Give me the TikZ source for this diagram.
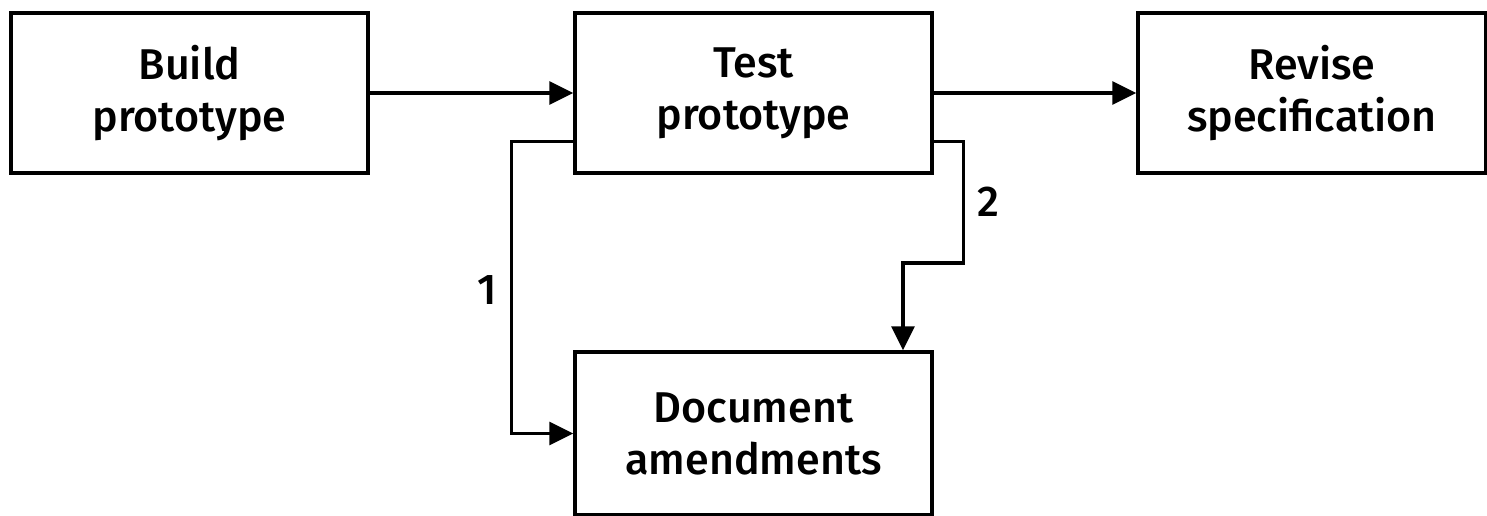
\documentclass[tikz,border=0pt]{standalone}
\usepackage{fontspec}
\setmainfont{Fira Sans}[UprightFont=* Medium]
\usetikzlibrary{arrows.meta}
\tikzset{
  stage/.style={draw,line width=2pt,minimum width=7.14cm,minimum height=3.2cm,align=center,inner sep=0pt,font=\fontsize{24.5}{29.6}\selectfont},
  flow/.style={line width=1.9pt,-{Triangle[length=0.48cm,width=0.46cm]}},
  tag/.style={font=\fontsize{24.5}{28}\selectfont}
}
\begin{document}
\begin{tikzpicture}[x=0.02cm,y=-0.02cm]
\useasboundingbox (0,0) rectangle (1487,516);
\node[stage] (build) at (189.5,93) {Build\\prototype};
\node[stage] (test) at (753.5,93) {Test\\prototype};
\node[stage,minimum width=6.96cm] (revise) at (1312,93) {Revise\\specification};
\node[stage,minimum height=3.26cm] (amend) at (753.5,433.5) {Document\\amendments};
\coordinate (bend) at (903,263);
\draw[flow] (build) -- (test);
\draw[flow] (test) -- (revise);
\draw[flow] ([yshift=0.66cm]test.south west) -- ++(-1.24cm,0) |- (amend.west);
\draw[flow] ([yshift=0.66cm]test.south east) -- ++(0.6cm,0) |- (bend) -- (bend |- amend.north);
\node[tag] (one) at (487,290) {1};
\node[tag] (two) at (988,202) {2};
\end{tikzpicture}
\end{document}
